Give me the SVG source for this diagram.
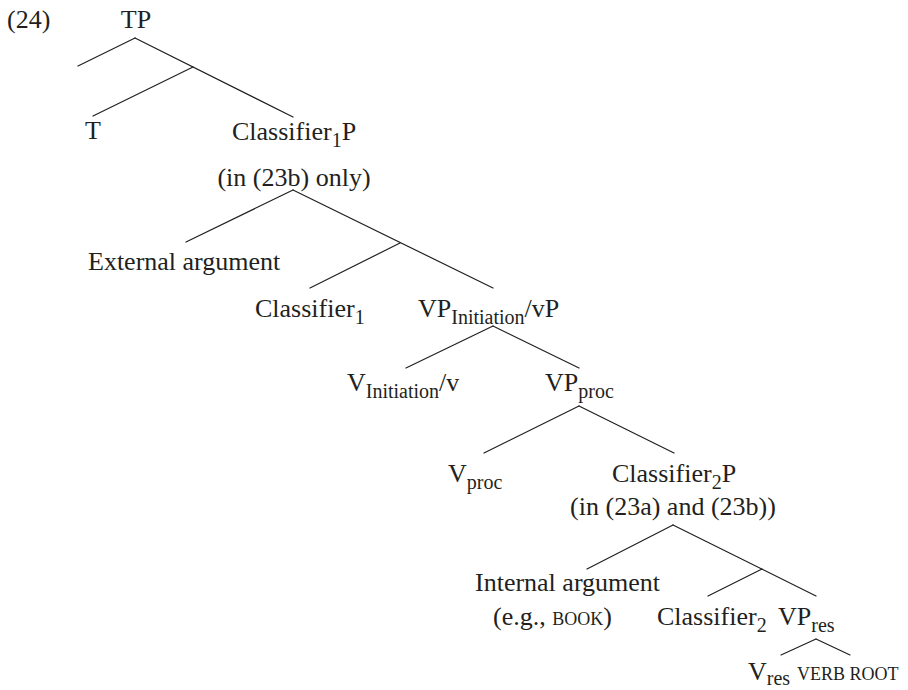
<svg xmlns="http://www.w3.org/2000/svg" width="908" height="690" viewBox="0 0 908 690">
<style>
text{font-family:"Liberation Serif","Times New Roman",serif;font-size:26px;fill:#231f20}
.sub{font-size:20px}
.sc{font-size:18px}
.m{text-anchor:middle}
line{stroke:#231f20;stroke-width:1.2;stroke-linecap:round}
</style>
<rect width="908" height="690" fill="#fff"/>
<g id="label"><text x="7" y="28">(24)</text></g>
<g id="connectors">
<line x1="135" y1="38" x2="78" y2="66"/>
<line x1="135" y1="38" x2="293" y2="117"/>
<line x1="193" y1="67" x2="93" y2="116"/>
<line x1="293" y1="190" x2="186" y2="242"/>
<line x1="293" y1="190" x2="493" y2="288"/>
<line x1="400" y1="243" x2="310" y2="288"/>
<line x1="493" y1="326" x2="406" y2="368"/>
<line x1="493" y1="326" x2="579" y2="368"/>
<line x1="579" y1="406" x2="484" y2="453"/>
<line x1="579" y1="406" x2="674" y2="453"/>
<line x1="673" y1="525" x2="587" y2="569"/>
<line x1="673" y1="525" x2="816" y2="596"/>
<line x1="762" y1="569" x2="708" y2="596"/>
<line x1="816" y1="639" x2="781" y2="655"/>
<line x1="816" y1="639" x2="850" y2="655"/>
</g>
<g id="TP"><text class="m" x="136" y="28">TP</text></g>
<g id="T"><text class="m" x="93" y="139">T</text></g>
<g id="Classifier1P"><text x="232" y="140">Classifier<tspan class="sub" dy="7">1</tspan><tspan dy="-7">P</tspan></text>
<text class="m" x="294" y="186">(in (23b) only)</text></g>
<g id="ExternalArgument"><text x="88" y="270">External argument</text></g>
<g id="Classifier1"><text x="255" y="317">Classifier<tspan class="sub" dy="7">1</tspan></text></g>
<g id="VPInitiation"><text x="418" y="317">VP<tspan class="sub" dy="7">Initiation</tspan><tspan dy="-7">/vP</tspan></text></g>
<g id="VInitiation"><text x="347" y="391">V<tspan class="sub" dy="7">Initiation</tspan><tspan dy="-7">/v</tspan></text></g>
<g id="VPproc"><text x="545" y="391">VP<tspan class="sub" dy="7">proc</tspan></text></g>
<g id="Vproc"><text x="448" y="482">V<tspan class="sub" dy="7">proc</tspan></text></g>
<g id="Classifier2P"><text x="612" y="482">Classifier<tspan class="sub" dy="7">2</tspan><tspan dy="-7">P</tspan></text>
<text class="m" x="673" y="515">(in (23a) and (23b))</text></g>
<g id="InternalArgument"><text x="475" y="591">Internal argument</text>
<text x="493" y="625">(e.g., <tspan class="sc">BOOK</tspan>)</text></g>
<g id="Classifier2"><text x="657" y="625">Classifier<tspan class="sub" dy="7">2</tspan></text></g>
<g id="VPres"><text x="778" y="625">VP<tspan class="sub" dy="7">res</tspan></text></g>
<g id="Vres"><text x="748" y="680">V<tspan class="sub" dy="5">res</tspan></text></g>
<g id="VerbRoot"><text class="sc" x="797" y="680">VERB ROOT</text></g>
</svg>
